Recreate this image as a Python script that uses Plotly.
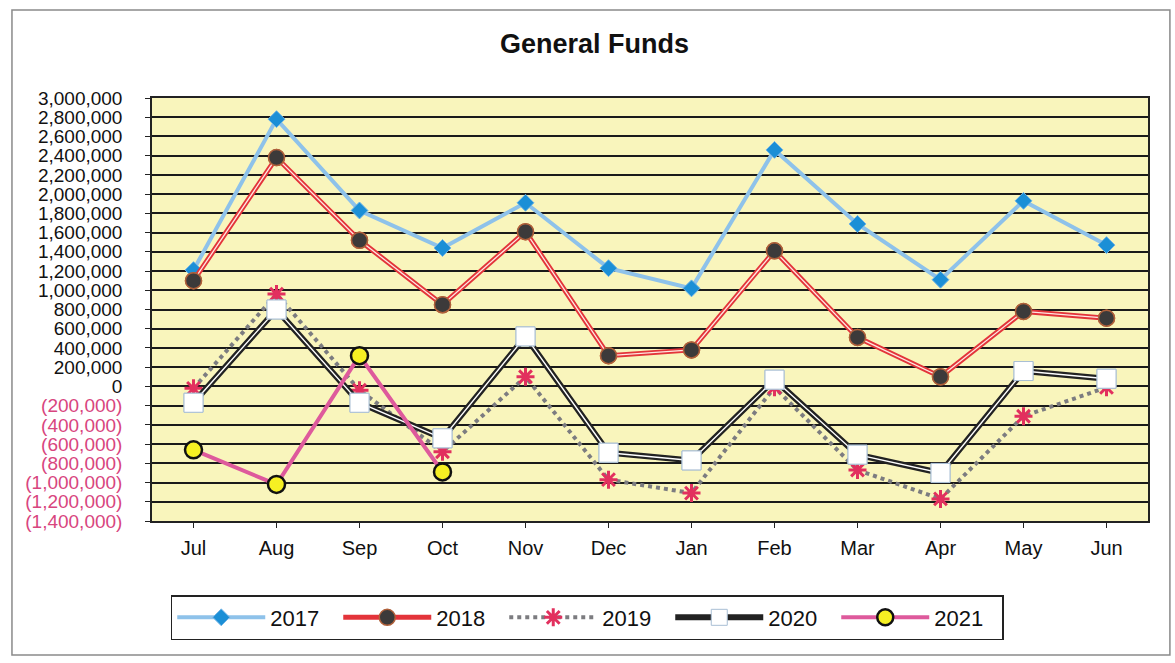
import plotly.graph_objects as go

months = ["Jul", "Aug", "Sep", "Oct", "Nov", "Dec", "Jan", "Feb", "Mar", "Apr", "May", "Jun"]
y2017 = [1210000, 2780000, 1830000, 1440000, 1910000, 1230000, 1020000, 2460000, 1690000, 1110000, 1930000, 1470000]
y2018 = [1100000, 2380000, 1520000, 850000, 1610000, 320000, 380000, 1410000, 510000, 100000, 780000, 710000]
y2019 = [-20000, 960000, -40000, -680000, 100000, -970000, -1110000, -10000, -870000, -1170000, -310000, -10000]
y2020 = [-170000, 800000, -170000, -540000, 520000, -690000, -770000, 70000, -710000, -900000, 160000, 80000]
y2021 = [-660000, -1020000, 320000, -890000]
tick_values = [3000000, 2800000, 2600000, 2400000, 2200000, 2000000, 1800000, 1600000, 1400000,
               1200000, 1000000, 800000, 600000, 400000, 200000, 0, -200000, -400000, -600000,
               -800000, -1000000, -1200000, -1400000]


def fmt(v):
    if v < 0:
        return "<span style='color:#D8457E'>({:,})</span>".format(-v)
    return "{:,}".format(v)


tick_text = [fmt(v) for v in tick_values]

fig = go.Figure()

# 2017
fig.add_trace(go.Scatter(x=months, y=y2017, name="2017", mode="lines+markers",
                         line=dict(color="#8EC2EA", width=4),
                         marker=dict(symbol="diamond", size=13, color="#1B8FD6",
                                     line=dict(color="#6FB3E6", width=1))))
# 2018 (double red line)
fig.add_trace(go.Scatter(x=months, y=y2018, name="2018", mode="lines+markers", legendgroup="2018",
                         line=dict(color="#E3343A", width=5),
                         marker=dict(symbol="circle", size=16, color="#3C3A3A",
                                     line=dict(color="#B0603A", width=1.5))))
fig.add_trace(go.Scatter(x=months, y=y2018, mode="lines", showlegend=False, legendgroup="2018",
                         line=dict(color="#FFE6E0", width=1.3), hoverinfo="skip"))
fig.add_trace(go.Scatter(x=months, y=y2018, mode="markers", showlegend=False, legendgroup="2018",
                         marker=dict(symbol="circle", size=16, color="#3C3A3A",
                                     line=dict(color="#B0603A", width=1.5)), hoverinfo="skip"))
# 2019
fig.add_trace(go.Scatter(x=months, y=y2019, name="2019", mode="lines+markers",
                         line=dict(color="#7C7C80", width=4, dash="dot"),
                         marker=dict(symbol="asterisk-open", size=15, color="#E2305E",
                                     line=dict(color="#E2305E", width=3))))
# 2020 (double black line)
fig.add_trace(go.Scatter(x=months, y=y2020, name="2020", mode="lines+markers", legendgroup="2020",
                         line=dict(color="#222222", width=6),
                         marker=dict(symbol="square", size=19, color="#FFFFFF",
                                     line=dict(color="#A8BED4", width=1))))
fig.add_trace(go.Scatter(x=months, y=y2020, mode="lines", showlegend=False, legendgroup="2020",
                         line=dict(color="#FFFFFF", width=1.4), hoverinfo="skip"))
fig.add_trace(go.Scatter(x=months, y=y2020, mode="markers", showlegend=False, legendgroup="2020",
                         marker=dict(symbol="square", size=19, color="#FFFFFF",
                                     line=dict(color="#A8BED4", width=1)), hoverinfo="skip"))
# 2021
fig.add_trace(go.Scatter(x=months[:len(y2021)], y=y2021, name="2021", mode="lines+markers",
                         line=dict(color="#DE5A9C", width=4),
                         marker=dict(symbol="circle", size=17, color="#F6F023",
                                     line=dict(color="#111111", width=2.5))))

fig.update_layout(
    width=1175, height=663,
    paper_bgcolor="white",
    plot_bgcolor="#F9F5BC",
    margin=dict(l=152, r=27, t=98, b=142, autoexpand=False),
    font=dict(family="Liberation Sans, Arial, sans-serif", color="#111111"),
    title=dict(text="<b>General Funds</b>", x=0.506, xanchor="center", y=0.935, yanchor="middle",
               font=dict(size=27, color="#111111")),
    showlegend=True,
    legend=dict(orientation="h", x=0.437, xanchor="center", y=-0.175, yanchor="top",
                bordercolor="#222222", borderwidth=1.5, bgcolor="white",
                font=dict(size=22, color="#111111"), itemwidth=88,
                entrywidth=63, traceorder="normal"),
    shapes=[dict(type="rect", xref="paper", yref="paper", x0=-0.1406, x1=1.022, y0=-0.317, y1=1.208,
                 line=dict(color="#8A8A8A", width=1.5), layer="below")],
)

fig.update_xaxes(
    type="category", range=[-0.5, 11.5], automargin=False,
    showgrid=False, showline=True, linecolor="#222222", linewidth=1.5, mirror=True,
    ticks="outside", ticklen=5, tickcolor="#222222", ticklabelstandoff=3,
    tickfont=dict(size=20, family="Liberation Sans Narrow, Arial Narrow, Liberation Sans"),
)
fig.update_yaxes(
    range=[-1400000, 3000000], automargin=False,
    tickvals=tick_values, ticktext=tick_text,
    showgrid=True, gridcolor="#1A1A1A", gridwidth=2,
    zeroline=False, showline=True, linecolor="#222222", linewidth=1.5, mirror=True,
    ticks="outside", ticklen=5, tickcolor="#222222", ticklabelstandoff=19,
    tickfont=dict(size=19, family="Liberation Sans, Arial"),
)

fig.write_html("out.html", config={"displayModeBar": False},
               post_script="document.body.style.margin='0';document.body.style.overflow='hidden';")
